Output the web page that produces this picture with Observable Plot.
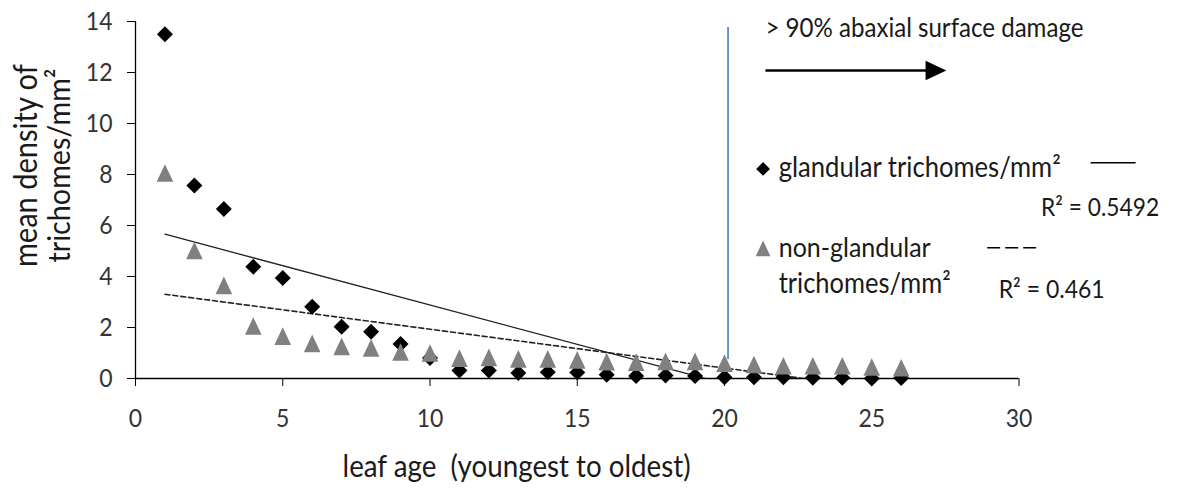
<!DOCTYPE html>
<html>
<head>
<meta charset="utf-8">
<script src="https://cdn.jsdelivr.net/npm/d3@7"></script>
<script src="https://cdn.jsdelivr.net/npm/@observablehq/plot@0.6"></script>
<style>
  html, body { margin: 0; padding: 0; background: #fff; }
  #chart svg { display: block; }
</style>
</head>
<body>
<div id="chart"></div>
<script>
// ---------- data ----------
const leafAge = [1, 2, 3, 4, 5, 6, 7, 8, 9, 10, 11, 12, 13, 14, 15, 16, 17, 18, 19, 20, 21, 22, 23, 24, 25, 26];
const glandular = [13.5, 7.57, 6.65, 4.38, 3.94, 2.81, 2.03, 1.83, 1.35, 0.8, 0.31, 0.31, 0.22, 0.25, 0.24, 0.15, 0.1, 0.12, 0.1, 0.05, 0.05, 0.05, 0.03, 0.03, 0.0, 0.02];
const nonGlandular = [8.06, 5.02, 3.65, 2.06, 1.66, 1.38, 1.26, 1.2, 1.04, 1.0, 0.8, 0.83, 0.77, 0.77, 0.73, 0.66, 0.64, 0.67, 0.67, 0.6, 0.55, 0.5, 0.5, 0.5, 0.45, 0.42];
const xTicks = [0, 5, 10, 15, 20, 25, 30];
const yTicks = [0, 2, 4, 6, 8, 10, 12, 14];
const seriesNames = ["glandular trichomes/mm²", "non-glandular", "trichomes/mm²"];
const rSquared = ["R² = 0.5492", "R² = 0.461"];
const xTitle = "leaf age  (youngest to oldest)";
const yTitle = ["mean density of", "trichomes/mm²"];
const damageLabel = "> 90% abaxial surface damage";
const damageAge = 20.12;            // vertical marker at leaf age
const damageSpan = [0.75, 13.76];   // its extent on the y scale

// ---------- helpers ----------
const fam = "Lato";
const grow = 1.1;   // taller glyphs, then squeezed back to the reference width
const ctx = document.createElement("canvas").getContext("2d");
const fit = (s, w) => { ctx.font = `100px ${fam}`; return +(grow * 100 * w / ctx.measureText(s).width).toFixed(2); };

const tri = {
  draw(c, size) {
    const r = Math.sqrt(size / Math.PI);
    const hw = 1.32 * r, hh = 1.4 * r;
    c.moveTo(0, -hh); c.lineTo(hw, hh); c.lineTo(-hw, hh); c.closePath();
  }
};

const pts = leafAge.map((x, i) => ({x, g: glandular[i], n: nonGlandular[i]}));
const digitW = 13.35;
const tickFS = fit("14", 2 * digitW);
const textColor = "#1a1a1a";

// annotation layout (data coordinates)
const notes = [
  {x: 21.39, y: 13.41, text: damageLabel, w: 318},
  {x: 21.84, y: 7.89, text: seriesNames[0], w: 282},
  {x: 30.75, y: 6.39, text: rSquared[0], w: 118},
  {x: 21.84, y: 4.78, text: seriesNames[1], w: 152},
  {x: 21.84, y: 3.35, text: seriesNames[2], w: 172},
  {x: 29.31, y: 3.15, text: rSquared[1], w: 106},
  {x: 12.94, y: -3.88, text: xTitle, w: 348, anchor: "middle"}
];
const yTitleRows = [
  {x: -3.33, y: 8.35, text: yTitle[0], w: 203},
  {x: -2.21, y: 8.35, text: yTitle[1], w: 194}
];

const marks = [
  Plot.axisX({ticks: xTicks, tickSize: 8, tickPadding: 23, fontSize: tickFS, stroke: "#000", fill: "#333", label: null}),
  Plot.axisY({ticks: yTicks, tickSize: 8, tickPadding: 15, fontSize: tickFS, stroke: "#000", fill: "#333", label: null}),
  Plot.ruleY([0], {stroke: "#000", strokeWidth: 1.3}),
  Plot.ruleX([0], {stroke: "#000", strokeWidth: 1.3}),
  Plot.linearRegressionY(pts, {x: "x", y: "g", ci: 0, stroke: "#222", strokeWidth: 1.3, clip: true}),
  Plot.linearRegressionY(pts, {x: "x", y: "n", ci: 0, stroke: "#222", strokeWidth: 1.6, strokeDasharray: "5,3", clip: true}),
  Plot.ruleX([damageAge], {y1: damageSpan[0], y2: damageSpan[1], stroke: "#4a7ebb", strokeWidth: 1.6}),
  Plot.dot(pts, {x: "x", y: "g", symbol: "diamond2", r: 7.2, fill: "#000", stroke: "none"}),
  Plot.dot(pts, {x: "x", y: "n", symbol: tri, r: 6.3, fill: "#808080", stroke: "none"}),
  // arrow
  Plot.link([{x1: 21.39, x2: 27.0, y: 12.08}], {x1: "x1", x2: "x2", y1: "y", y2: "y", stroke: "#000", strokeWidth: 2.5}),
  Plot.dot([{x: 27.18, y: 12.08}], {x: "x", y: "y", symbol: tri, r: 7.4, rotate: 90, fill: "#000", stroke: "none"}),
  // legend symbols
  Plot.dot([{x: 21.31, y: 8.22}], {x: "x", y: "y", symbol: "diamond2", r: 6.2, fill: "#000", stroke: "none"}),
  Plot.dot([{x: 21.31, y: 5.1}], {x: "x", y: "y", symbol: tri, r: 5.6, fill: "#808080", stroke: "none"}),
  Plot.link([{x1: 32.43, x2: 33.96, y: 8.46}], {x1: "x1", x2: "x2", y1: "y", y2: "y", stroke: "#000", strokeWidth: 1.4}),
  Plot.link([{x1: 28.92, x2: 30.63, y: 5.13}], {x1: "x1", x2: "x2", y1: "y", y2: "y", stroke: "#000", strokeWidth: 1.4, strokeDasharray: "13,5"})
];

for (const n of notes) {
  marks.push(Plot.text([n], {x: "x", y: "y", text: "text", textAnchor: n.anchor || "start", lineAnchor: "bottom",
    fontSize: fit(n.text, n.w), fill: textColor}));
}
for (const n of yTitleRows) {
  marks.push(Plot.text([n], {x: "x", y: "y", text: "text", rotate: -90, textAnchor: "middle", lineAnchor: "bottom",
    fontSize: fit(n.text, n.w), fill: textColor}));
}

const chart = Plot.plot({
  width: 1178,
  height: 493,
  marginLeft: 135,
  marginRight: 159.5,
  marginTop: 21,
  marginBottom: 115,
  style: {fontFamily: fam, background: "#fff", color: "#000", overflow: "visible"},
  x: {domain: [0, 30]},
  y: {domain: [0, 14]},
  marks
});

// squeeze the slightly enlarged glyphs back to the widths measured on the reference
chart.querySelectorAll("text").forEach(t => {
  const s = t.textContent;
  const rot = (t.getAttribute("transform") || "").includes("rotate");
  let w = null;
  if (/^\d+$/.test(s)) w = digitW * s.length;
  else {
    const n = (rot ? yTitleRows : notes).find(n => n.text === s);
    if (n) w = n.w;
  }
  if (w) { t.setAttribute("textLength", w); t.setAttribute("lengthAdjust", "spacingAndGlyphs"); }
});
document.getElementById("chart").append(chart);
</script>
</body>
</html>
